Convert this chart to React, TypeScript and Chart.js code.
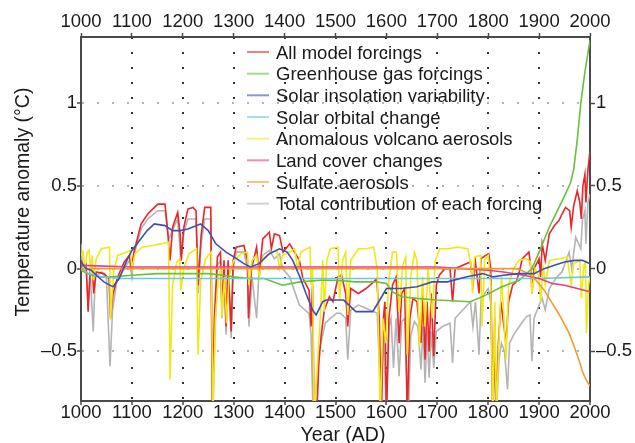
import React, { useEffect, useRef } from 'react';
import { Chart, registerables } from 'chart.js';

Chart.register(...registerables);

// ---- tick values ----
const xTickValues = [1000, 1100, 1200, 1300, 1400, 1500, 1600, 1700, 1800, 1900, 2000];
const yTickValues = [-0.5, 0, 0.5, 1];

// ---- series: [year, temperature anomaly °C] ----
const allModelForcings: [number, number][] = [
  [1000, 0.05], [1005, 0.02], [1010, 0.03], [1014, -0.26], [1018, -0.02], [1022, 0.02], [1025, -0.15], [1030, -0.02],
  [1045, -0.03], [1055, -0.06], [1058, -0.3], [1063, -0.15], [1072, -0.05], [1085, 0.04], [1095, 0.08], [1099, 0.0],
  [1104, 0.1], [1118, 0.27], [1131, 0.33], [1151, 0.39], [1165, 0.39], [1169, 0.27], [1175, 0.05], [1180, 0.25],
  [1190, 0.34], [1195, 0.2], [1197, 0.05], [1202, 0.25], [1210, 0.36], [1220, 0.37], [1226, 0.35], [1230, -0.1],
  [1236, 0.2], [1243, 0.37], [1255, 0.37], [1258, -0.9], [1262, -0.3], [1268, 0.07], [1274, 0.1], [1277, -0.25],
  [1281, 0.05], [1285, -0.35], [1289, 0.05], [1295, -0.38], [1299, 0.05], [1305, 0.13], [1320, 0.14], [1327, 0.05],
  [1329, -0.3], [1335, 0.0], [1345, 0.13], [1350, -0.05], [1357, 0.18], [1370, 0.22], [1374, 0.12], [1380, 0.21],
  [1390, 0.2], [1397, 0.1], [1410, 0.15], [1429, 0.05], [1436, -0.06], [1448, -0.13], [1452, -0.35], [1455, -0.1],
  [1458, -0.9], [1463, -0.9], [1467, -0.58], [1472, -0.4], [1478, -0.25], [1488, -0.17], [1495, -0.2], [1505, -0.05],
  [1512, -0.04], [1520, -0.15], [1524, -0.35], [1530, -0.12], [1545, -0.15], [1560, -0.12], [1575, -0.08], [1581, -0.06],
  [1586, -0.3], [1590, -0.9], [1594, -0.3], [1597, -0.2], [1600, -0.9], [1605, -0.3], [1612, -0.1], [1619, -0.05],
  [1625, -0.45], [1630, -0.15], [1636, -0.12], [1641, -0.9], [1646, -0.3], [1652, -0.18], [1660, -0.2], [1668, -0.45],
  [1672, -0.15], [1676, -0.55], [1680, -0.2], [1684, -0.5], [1688, -0.15], [1693, -0.53], [1698, -0.1], [1704, -0.04],
  [1715, 0.0], [1725, 0.0], [1730, -0.2], [1735, 0.0], [1750, 0.02], [1765, 0.04], [1770, -0.1], [1775, 0.04],
  [1782, -0.15], [1786, 0.06], [1795, 0.08], [1801, 0.09], [1805, 0.0], [1809, -0.9], [1813, -0.3], [1815, -0.9],
  [1820, -0.45], [1825, -0.2], [1831, -0.35], [1835, -0.45], [1840, -0.2], [1848, -0.1], [1855, -0.08], [1861, -0.02],
  [1867, 0.06], [1880, 0.1], [1884, 0.0], [1886, -0.15], [1890, 0.0], [1900, 0.06], [1903, -0.05], [1906, 0.15],
  [1912, 0.05], [1920, 0.21], [1930, 0.26], [1939, 0.29], [1945, 0.33], [1952, 0.37], [1960, 0.35], [1963, 0.25],
  [1968, 0.38], [1975, 0.47], [1980, 0.4], [1983, 0.3], [1986, 0.5], [1990, 0.57], [1992, 0.4], [1996, 0.6], [2000, 0.71],
];

const greenhouseGas: [number, number][] = [
  [1000, -0.01], [1020, -0.04], [1040, -0.05], [1060, -0.05], [1100, -0.04], [1150, -0.03], [1200, -0.03], [1250, -0.03],
  [1280, -0.04], [1300, -0.05], [1330, -0.06], [1360, -0.06], [1396, -0.1], [1430, -0.08], [1470, -0.07], [1500, -0.07],
  [1540, -0.08], [1580, -0.08], [1600, -0.09], [1612, -0.14], [1630, -0.17], [1660, -0.18], [1700, -0.19], [1765, -0.2],
  [1795, -0.16], [1827, -0.11], [1861, -0.07], [1886, 0.0], [1900, 0.1], [1920, 0.25], [1939, 0.37], [1950, 0.44],
  [1962, 0.52], [1968, 0.6], [1975, 0.78], [1982, 1.0], [1990, 1.19], [2000, 1.38],
];

const solarInsolation: [number, number][] = [
  [1000, 0.04], [1010, 0.0], [1020, -0.01], [1030, -0.04], [1045, -0.08], [1063, -0.11], [1075, -0.06], [1090, 0.05],
  [1100, 0.11], [1115, 0.17], [1130, 0.23], [1144, 0.27], [1165, 0.26], [1180, 0.23], [1195, 0.23], [1210, 0.24],
  [1235, 0.27], [1250, 0.23], [1265, 0.15], [1285, 0.1], [1301, 0.07], [1320, 0.03], [1333, 0.01], [1350, 0.03],
  [1370, 0.09], [1390, 0.12], [1405, 0.1], [1416, 0.05], [1430, -0.05], [1442, -0.15], [1455, -0.25], [1462, -0.28],
  [1475, -0.2], [1482, -0.19], [1516, -0.19], [1540, -0.26], [1573, -0.26], [1585, -0.2], [1600, -0.12], [1630, -0.12],
  [1660, -0.11], [1690, -0.08], [1720, -0.08], [1756, -0.05], [1789, -0.03], [1810, -0.05], [1830, -0.04], [1860, -0.03],
  [1890, -0.03], [1910, 0.0], [1930, 0.02], [1950, 0.04], [1970, 0.05], [1985, 0.05], [2000, 0.03],
];

const solarOrbital: [number, number][] = [
  [1000, 0.0], [1015, -0.03], [1040, -0.05], [1080, -0.06], [1150, -0.06], [1250, -0.06], [1400, -0.06], [1500, -0.06],
  [1600, -0.06], [1700, -0.06], [1800, -0.06], [1900, -0.06], [2000, -0.05],
];

const volcanoAerosols: [number, number][] = [
  [1000, 0.08], [1004, 0.1], [1008, 0.0], [1012, 0.1], [1016, 0.11], [1019, -0.03], [1022, 0.08], [1024, -0.07],
  [1030, 0.06], [1040, 0.12], [1056, 0.13], [1058, -0.31], [1064, -0.02], [1072, 0.08], [1090, 0.1], [1097, 0.11],
  [1100, 0.0], [1106, 0.09], [1120, 0.13], [1140, 0.14], [1172, 0.16], [1175, -0.67], [1180, -0.1], [1188, 0.04],
  [1194, 0.06], [1196, -0.13], [1202, 0.0], [1212, 0.09], [1227, 0.12], [1230, -0.52], [1235, -0.08], [1245, 0.06],
  [1256, 0.1], [1259, -0.9], [1264, -0.3], [1270, -0.05], [1275, 0.0], [1277, -0.29], [1282, -0.05], [1286, -0.33],
  [1291, -0.05], [1300, 0.05], [1315, 0.09], [1327, 0.1], [1330, -0.1], [1336, 0.05], [1345, 0.08], [1350, -0.05],
  [1357, 0.06], [1375, 0.1], [1385, 0.11], [1390, 0.0], [1396, 0.08], [1410, 0.1], [1420, 0.12], [1425, 0.0],
  [1432, 0.1], [1450, 0.13], [1452, -0.1], [1455, 0.0], [1458, -0.9], [1464, -0.6], [1470, -0.3], [1475, 0.05],
  [1478, -0.26], [1483, 0.05], [1490, 0.12], [1505, 0.13], [1508, -0.19], [1514, 0.05], [1520, 0.1], [1524, -0.28],
  [1530, 0.05], [1545, 0.12], [1560, 0.12], [1575, 0.13], [1582, 0.0], [1588, -0.9], [1593, -0.3], [1599, -0.45],
  [1604, -0.1], [1612, 0.1], [1620, 0.1], [1625, -0.26], [1632, 0.02], [1638, 0.07], [1641, -0.52], [1648, -0.05],
  [1655, 0.1], [1660, 0.05], [1665, -0.47], [1671, -0.05], [1676, -0.35], [1682, 0.0], [1690, -0.3], [1696, 0.05],
  [1705, 0.12], [1720, 0.12], [1740, 0.13], [1760, 0.12], [1767, 0.0], [1769, -0.15], [1773, 0.07], [1785, 0.08],
  [1788, -0.35], [1793, 0.05], [1800, 0.08], [1805, -0.1], [1809, -0.9], [1813, -0.2], [1816, -0.9], [1821, -0.45],
  [1826, -0.05], [1831, -0.3], [1835, -0.55], [1840, -0.1], [1850, 0.0], [1860, 0.05], [1875, 0.06], [1883, 0.04],
  [1886, -0.15], [1892, 0.0], [1900, -0.05], [1903, -0.2], [1908, 0.02], [1912, -0.1], [1920, 0.05], [1940, 0.06],
  [1955, 0.07], [1963, -0.1], [1968, 0.03], [1980, 0.05], [1983, -0.18], [1988, 0.02], [1991, 0.04], [1993, -0.39],
  [1997, -0.1], [2000, -0.05],
];

const landCover: [number, number][] = [
  [1000, 0.02], [1100, 0.01], [1200, 0.01], [1300, 0.01], [1400, 0.01], [1500, 0.01], [1600, 0.01], [1700, 0.01],
  [1750, 0.0], [1800, -0.01], [1830, -0.02], [1870, -0.04], [1900, -0.06], [1926, -0.09], [1950, -0.1], [1975, -0.12],
  [2000, -0.14],
];

const sulfateAerosols: [number, number][] = [
  [1000, 0.0], [1850, 0.0], [1861, -0.005], [1880, -0.03], [1894, -0.07], [1910, -0.13], [1926, -0.21], [1940, -0.28],
  [1959, -0.39], [1970, -0.48], [1978, -0.55], [1985, -0.62], [1992, -0.67], [2000, -0.71],
];

const totalContribution: [number, number][] = [
  [1000, 0.15], [1003, 0.0], [1010, 0.0], [1014, -0.2], [1018, -0.02], [1024, -0.38], [1028, -0.05], [1040, -0.02],
  [1050, -0.06], [1057, -0.59], [1062, -0.25], [1070, -0.08], [1085, 0.0], [1095, 0.05], [1100, -0.05], [1104, 0.08],
  [1118, 0.24], [1131, 0.3], [1151, 0.35], [1165, 0.35], [1169, 0.25], [1173, 0.18], [1178, 0.22], [1190, 0.3],
  [1196, 0.05], [1202, 0.22], [1210, 0.3], [1226, 0.3], [1230, -0.15], [1236, 0.15], [1243, 0.3], [1255, 0.3],
  [1259, -0.9], [1263, -0.4], [1268, 0.02], [1274, 0.05], [1277, -0.3], [1281, 0.0], [1285, -0.4], [1289, 0.0],
  [1295, -0.42], [1299, 0.0], [1305, 0.1], [1320, 0.1], [1327, 0.0], [1330, -0.35], [1336, -0.05], [1345, -0.3],
  [1350, 0.0], [1357, 0.08], [1370, 0.11], [1380, 0.06], [1390, 0.09], [1396, 0.0], [1410, -0.05], [1429, -0.22],
  [1440, -0.25], [1448, -0.27], [1452, -0.4], [1456, -0.9], [1463, -0.9], [1467, -0.5], [1475, -0.4], [1480, -0.33],
  [1490, -0.3], [1502, -0.27], [1510, -0.27], [1520, -0.3], [1524, -0.55], [1530, -0.25], [1545, -0.22], [1560, -0.24],
  [1575, -0.26], [1582, -0.27], [1590, -0.9], [1594, -0.35], [1600, -0.9], [1605, -0.35], [1609, -0.3], [1614, -0.6],
  [1619, -0.3], [1625, -0.65], [1630, -0.32], [1636, -0.3], [1643, -0.9], [1648, -0.4], [1655, -0.32], [1662, -0.35],
  [1668, -0.61], [1672, -0.35], [1676, -0.69], [1680, -0.38], [1684, -0.66], [1688, -0.38], [1693, -0.6], [1698, -0.38],
  [1710, -0.35], [1725, -0.33], [1730, -0.57], [1735, -0.3], [1750, -0.25], [1765, -0.2], [1770, -0.35], [1775, -0.2],
  [1782, -0.52], [1786, -0.18], [1800, -0.12], [1805, -0.2], [1809, -0.9], [1813, -0.5], [1816, -0.9], [1821, -0.55],
  [1826, -0.45], [1832, -0.5], [1838, -0.73], [1842, -0.45], [1850, -0.4], [1861, -0.35], [1875, -0.29], [1882, -0.28],
  [1886, -0.56], [1890, -0.3], [1900, -0.22], [1906, -0.18], [1912, -0.25], [1920, -0.12], [1935, -0.05], [1945, -0.02],
  [1959, 0.1], [1964, 0.0], [1972, 0.19], [1982, 0.12], [1985, 0.29], [1990, 0.35], [1992, 0.15], [1996, 0.4], [2000, 0.45],
];

const seriesLabels = [
  'All model forcings',
  'Greenhouse gas forcings',
  'Solar insolation variability',
  'Solar orbital change',
  'Anomalous volcano aerosols',
  'Land cover changes',
  'Sulfate aerosols',
  'Total contribution of each forcing',
];
const seriesData = [
  allModelForcings, greenhouseGas, solarInsolation, solarOrbital,
  volcanoAerosols, landCover, sulfateAerosols, totalContribution,
];
const seriesColors = ['#e8262b', '#68c03c', '#3f4fae', '#6cc7e0', '#efe81a', '#e63c8c', '#f39a2f', '#b4b4b4'];
// lower = drawn on top
const seriesOrder = [6, 4, 0, 3, 5, 2, 1, 7];

const FONT = '"Liberation Sans", Arial, Helvetica, sans-serif';
const AXIS_COLOR = '#4a4a4a';
const TEXT_COLOR = '#1a1a1a';

const fmtY = (v: number) => (v < 0 ? '\u2013' + Math.abs(v) : String(v));

const overlayPlugin = {
  id: 'overlay',
  afterDraw(chart: any) {
    const ctx = chart.ctx as CanvasRenderingContext2D;
    const area = chart.chartArea;
    ctx.save();
    // legend inside the plot
    const lineX = area.left + 166;
    const lineLen = 22;
    const textX = area.left + 195;
    const rowTop = area.top + 15;
    const rowStep = 21.66;
    ctx.font = `18.5px ${FONT}`;
    ctx.textAlign = 'left';
    ctx.textBaseline = 'alphabetic';
    seriesLabels.forEach((label, i) => {
      const y = rowTop + i * rowStep;
      ctx.globalAlpha = 0.6;
      ctx.strokeStyle = seriesColors[i];
      ctx.lineWidth = 2;
      ctx.beginPath();
      ctx.moveTo(lineX, y);
      ctx.lineTo(lineX + lineLen, y);
      ctx.stroke();
      ctx.globalAlpha = 1;
      ctx.fillStyle = TEXT_COLOR;
      ctx.fillText(label, textX, y + 6.6);
    });
    // axis titles
    ctx.font = `19.5px ${FONT}`;
    ctx.fillStyle = TEXT_COLOR;
    ctx.textAlign = 'center';
    ctx.textBaseline = 'alphabetic';
    ctx.fillText('Year (AD)', area.left + 262, 441);
    ctx.translate(29, 202);
    ctx.rotate(-Math.PI / 2);
    ctx.fillText('Temperature anomaly (\u00b0C)', 0, 0);
    ctx.restore();
  },
};

const setXTicks = (s: any) => { s.ticks = xTickValues.map((v) => ({ value: v })); };
const setYTicks = (s: any) => { s.ticks = yTickValues.map((v) => ({ value: v })); };

export default function App() {
  const ref = useRef<HTMLCanvasElement | null>(null);

  useEffect(() => {
    document.body.style.margin = '0';
    const canvas = ref.current;
    if (!canvas) return;
    const tickFont = { family: FONT, size: 18.5 };
    const chart = new Chart(canvas, {
      type: 'line',
      data: {
        datasets: seriesLabels.map((label, i) => ({
          label,
          data: seriesData[i].map(([x, y]) => ({ x, y })),
          borderColor: seriesColors[i],
          backgroundColor: seriesColors[i],
          borderWidth: 1.6,
          pointRadius: 0,
          tension: 0,
          fill: false,
          order: seriesOrder[i],
        })),
      },
      options: {
        responsive: false,
        animation: false,
        devicePixelRatio: 1,
        layout: { padding: 0 },
        plugins: {
          legend: { display: false },
          tooltip: { enabled: false },
          title: { display: false },
        },
        scales: {
          x: {
            type: 'linear',
            position: 'bottom',
            min: 1000,
            max: 2000,
            afterBuildTicks: setXTicks,
            afterFit: (s: any) => { s.height = 42; },
            grid: {
              color: (c: any) =>
                c.tick && (c.tick.value === 1000 || c.tick.value === 2000) ? 'rgba(0,0,0,0)' : '#333333',
              lineWidth: 2,
              tickLength: 4,
              tickColor: AXIS_COLOR,
              tickWidth: 1.5,
            },
            border: { display: true, color: AXIS_COLOR, width: 2, dash: [2, 13] },
            ticks: {
              font: tickFont, color: TEXT_COLOR, padding: -3, maxRotation: 0, autoSkip: false,
              callback: (v: any) => String(v),
            },
          },
          x2: {
            type: 'linear',
            position: 'top',
            min: 1000,
            max: 2000,
            afterBuildTicks: setXTicks,
            afterFit: (s: any) => { s.height = 37; },
            grid: { drawOnChartArea: false, tickLength: 4, tickColor: AXIS_COLOR, tickWidth: 1.5 },
            border: { display: true, color: AXIS_COLOR, width: 2 },
            ticks: {
              font: tickFont, color: TEXT_COLOR, padding: 0, maxRotation: 0, autoSkip: false,
              callback: (v: any) => String(v),
            },
          },
          y: {
            type: 'linear',
            position: 'left',
            min: -0.8,
            max: 1.4,
            afterBuildTicks: setYTicks,
            afterFit: (s: any) => { s.width = 81; },
            grid: { color: '#b3b3b3', lineWidth: 2, tickLength: 4, tickColor: AXIS_COLOR, tickWidth: 1.5 },
            border: { display: true, color: AXIS_COLOR, width: 2, dash: [2, 13] },
            ticks: { font: tickFont, color: TEXT_COLOR, padding: 0, callback: (v: any) => fmtY(v) },
          },
          y2: {
            type: 'linear',
            position: 'right',
            min: -0.8,
            max: 1.4,
            afterBuildTicks: setYTicks,
            afterFit: (s: any) => { s.width = 45; },
            grid: { drawOnChartArea: false, tickLength: 5, tickColor: AXIS_COLOR, tickWidth: 1.5 },
            border: { display: true, color: AXIS_COLOR, width: 2 },
            ticks: { font: tickFont, color: TEXT_COLOR, padding: 1, callback: (v: any) => fmtY(v) },
          },
        },
      } as any,
      plugins: [overlayPlugin],
    });
    return () => chart.destroy();
  }, []);

  return (
    <div style={{ position: 'absolute', left: 0, top: 0, width: 635, height: 443, background: '#ffffff' }}>
      <canvas ref={ref} width={635} height={443} style={{ width: 635, height: 443, display: 'block' }} />
    </div>
  );
}
